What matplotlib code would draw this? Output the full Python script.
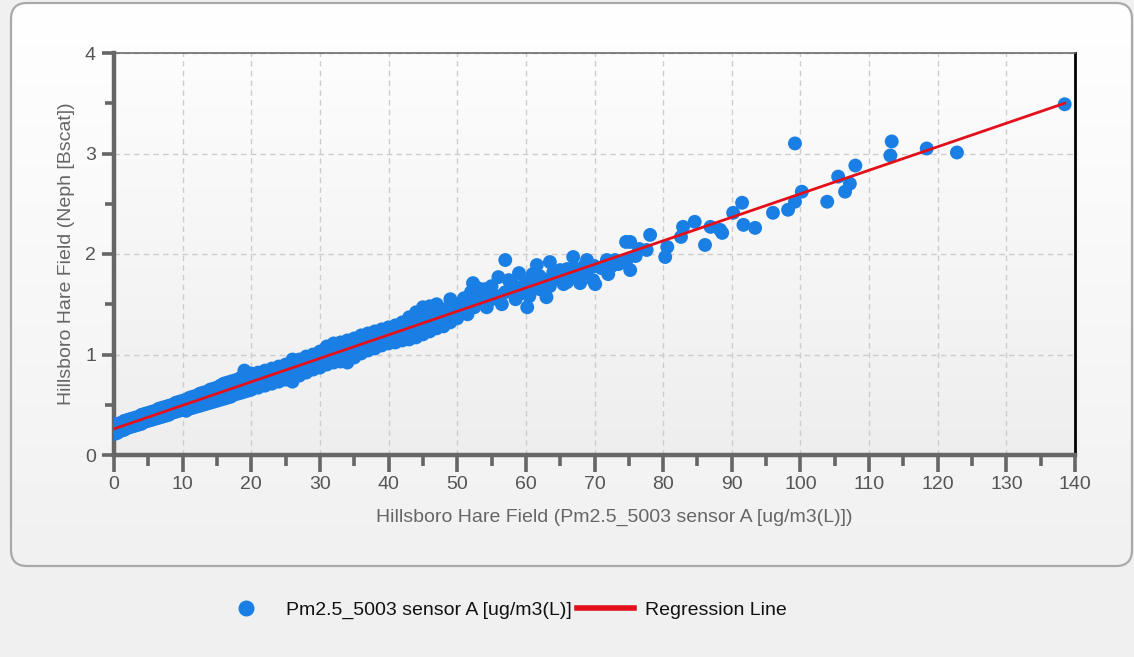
import matplotlib
matplotlib.use("Agg")
import matplotlib.pyplot as plt
import numpy as np
from matplotlib.colors import LinearSegmentedColormap
from matplotlib.lines import Line2D
from matplotlib.patches import FancyBboxPatch
from matplotlib.ticker import MultipleLocator

plt.rcParams["font.family"] = ["Liberation Sans", "DejaVu Sans"]

# (x, y) pairs
band_low = [
    (0.1, 0.30), (0.1, 0.21), (0.3, 0.25), (0.5, 0.31), (0.5, 0.22),
    (1.0, 0.32), (1.0, 0.24), (1.5, 0.34), (1.5, 0.25), (2.0, 0.35),
    (2.0, 0.27), (2.5, 0.36), (2.5, 0.28), (3.0, 0.37), (3.0, 0.29),
    (3.5, 0.38), (3.5, 0.30), (4.0, 0.40), (4.0, 0.31), (4.5, 0.41),
    (4.5, 0.33), (5.0, 0.42), (5.0, 0.34), (5.5, 0.43), (5.5, 0.35),
    (6.0, 0.44), (6.0, 0.36), (6.5, 0.46), (6.5, 0.37), (7.0, 0.47),
    (7.0, 0.38), (7.5, 0.48), (7.5, 0.39), (8.0, 0.49), (8.0, 0.40),
    (8.5, 0.50), (8.5, 0.42), (9.0, 0.52), (9.0, 0.43), (9.5, 0.53),
    (9.5, 0.44), (10.0, 0.54), (10.0, 0.45), (10.5, 0.55), (10.5, 0.44),
    (11.0, 0.57), (11.0, 0.46), (11.5, 0.58), (11.5, 0.47), (12.0, 0.59),
    (12.0, 0.48), (12.5, 0.61), (12.5, 0.49), (13.0, 0.62), (13.0, 0.50),
    (13.5, 0.63), (13.5, 0.51), (14.0, 0.65), (14.0, 0.52), (14.5, 0.66),
    (14.5, 0.53), (15.0, 0.67), (15.0, 0.54), (15.5, 0.69), (15.5, 0.55),
    (16.0, 0.71), (16.0, 0.56), (16.5, 0.72), (16.5, 0.57), (17.0, 0.73),
    (17.0, 0.58), (17.5, 0.74), (17.5, 0.60), (18.0, 0.75), (18.0, 0.61),
    (18.5, 0.77), (18.5, 0.62), (19.0, 0.84), (19.0, 0.63), (19.0, 0.76),
    (19.5, 0.79), (19.5, 0.64), (20.0, 0.81), (20.0, 0.65), (20.5, 0.74),
    (21.0, 0.82), (21.0, 0.67), (21.5, 0.76), (22.0, 0.84), (22.0, 0.69),
    (22.5, 0.78), (23.0, 0.86), (23.0, 0.71), (23.5, 0.80), (24.0, 0.88),
    (24.0, 0.73), (24.5, 0.82),
]
band_mid = [
    (25.0, 0.90), (25.0, 0.75), (25.5, 0.84), (26.0, 0.95), (26.0, 0.73),
    (26.5, 0.87), (27.0, 0.95), (27.0, 0.79), (27.5, 0.89), (28.0, 0.98),
    (28.0, 0.82), (28.5, 0.91), (29.0, 1.00), (29.0, 0.85), (29.5, 0.94),
    (30.0, 1.03), (30.0, 0.87), (30.5, 0.96), (31.0, 1.08), (31.0, 0.90),
    (31.5, 0.99), (32.0, 1.11), (32.0, 0.92), (32.5, 1.02), (33.0, 1.12),
    (33.0, 0.93), (33.5, 1.04), (34.0, 1.14), (34.0, 0.92), (34.5, 1.06),
    (35.0, 1.16), (35.0, 0.97), (35.5, 1.08), (36.0, 1.19), (36.0, 1.01),
    (36.5, 1.11), (37.0, 1.21), (37.0, 1.04), (37.5, 1.13), (38.0, 1.23),
    (38.0, 1.06), (38.5, 1.15), (39.0, 1.25), (39.0, 1.09), (39.5, 1.18),
    (40.0, 1.27), (40.0, 1.11), (40.5, 1.20), (41.0, 1.29), (41.0, 1.12),
    (41.5, 1.22), (42.0, 1.32), (42.0, 1.14), (42.5, 1.25), (43.0, 1.37),
    (43.0, 1.15), (43.5, 1.28), (44.0, 1.42), (44.0, 1.17), (44.5, 1.31),
    (45.0, 1.47), (45.0, 1.20), (45.5, 1.35), (46.0, 1.48), (46.0, 1.23),
    (46.5, 1.37), (47.0, 1.50), (47.0, 1.26), (47.5, 1.39), (48.0, 1.45),
    (48.0, 1.28), (48.5, 1.40), (49.0, 1.55), (49.0, 1.32), (49.5, 1.43),
]
band_high = [
    (50.0, 1.50), (50.0, 1.36), (50.5, 1.44), (51.0, 1.56), (51.0, 1.48),
    (51.5, 1.40), (52.0, 1.62), (52.0, 1.52), (52.3, 1.71), (52.5, 1.47),
    (53.0, 1.66), (53.0, 1.58), (53.5, 1.52), (54.0, 1.60), (54.0, 1.65),
    (54.3, 1.47), (55.0, 1.55), (55.0, 1.68), (55.0, 1.60), (56.0, 1.77),
    (56.0, 1.58), (56.5, 1.50), (57.0, 1.94), (57.0, 1.62), (57.5, 1.74),
    (58.0, 1.62), (58.0, 1.70), (58.5, 1.55), (59.0, 1.81), (59.0, 1.60),
    (59.5, 1.68), (60.0, 1.72), (60.2, 1.47), (60.5, 1.58), (61.0, 1.80),
    (61.0, 1.68), (61.6, 1.89), (62.0, 1.65), (62.0, 1.78), (62.5, 1.75),
    (63.0, 1.57), (63.5, 1.92), (63.5, 1.68), (64.0, 1.82), (64.0, 1.74),
    (65.0, 1.76), (65.0, 1.84), (65.5, 1.70), (66.0, 1.85), (66.0, 1.72),
    (66.9, 1.97), (67.0, 1.80), (67.0, 1.86), (67.9, 1.71), (68.0, 1.78),
    (68.5, 1.88), (68.9, 1.94), (69.0, 1.85), (69.8, 1.74), (70.0, 1.88),
    (70.1, 1.70), (71.0, 1.86), (71.8, 1.94), (72.0, 1.80), (72.5, 1.88),
    (73.0, 1.94), (73.5, 1.90), (74.6, 2.12), (74.7, 1.94), (75.2, 1.84),
    (76.0, 1.98), (76.5, 2.05),
]
outliers = [
    (75.2, 2.12), (77.6, 2.04), (78.1, 2.19), (80.3, 1.97), (80.6, 2.07),
    (82.6, 2.17), (82.9, 2.27), (84.6, 2.32), (86.1, 2.09), (86.9, 2.27),
    (88.3, 2.24), (88.6, 2.21), (90.2, 2.41), (91.5, 2.51), (91.7, 2.29),
    (93.4, 2.26), (96.0, 2.41), (98.2, 2.44), (99.2, 2.52), (99.2, 3.10),
    (100.2, 2.62), (103.9, 2.52), (105.5, 2.77), (106.5, 2.62), (107.2, 2.70),
    (108.0, 2.88), (113.1, 2.98), (113.3, 3.12), (118.4, 3.05), (122.8, 3.01),
    (138.5, 3.49),
]
reg_x = [0.0, 138.5]
reg_y = [0.26, 3.50]

x_label = "Hillsboro Hare Field (Pm2.5_5003 sensor A [ug/m3(L)])"
y_label = "Hillsboro Hare Field (Neph [Bscat])"
series_label = "Pm2.5_5003 sensor A [ug/m3(L)]"
line_label = "Regression Line"

BLUE = "#1a7fe4"
RED = "#e3101b"
W, H = 1134, 657

fig = plt.figure(figsize=(W / 100, H / 100), dpi=100)
fig.patch.set_facecolor("#f0f0f0")

# rounded panel behind the chart
bg = fig.add_axes([0, 0, 1, 1], zorder=-1)
bg.axis("off")
panel = FancyBboxPatch((11, 3), 1121, 563,
                       boxstyle="round,pad=0,rounding_size=16",
                       fc="none", ec="#a9a9a9", lw=1.6, zorder=2)
bg.add_patch(panel)
panel_cmap = LinearSegmentedColormap.from_list("panel", ["#ffffff", "#f1f1f1"])
im = bg.imshow(np.linspace(0, 1, 256)[:, None], cmap=panel_cmap,
               extent=(11, 1132, 566, 3), aspect="auto", zorder=1)
im.set_clip_path(panel)
bg.set_xlim(0, W)
bg.set_ylim(H, 0)

ax = fig.add_axes([114 / W, 1 - 455 / H, (1075 - 114) / W, (455 - 53) / H])
plot_cmap = LinearSegmentedColormap.from_list("plot", ["#fdfdfd", "#eeeeee"])
ax.imshow(np.linspace(0, 1, 256)[:, None], cmap=plot_cmap,
          extent=(0, 140, 0, 4), aspect="auto", origin="upper", zorder=0)

points = band_low + band_mid + band_high + outliers
xs = [p[0] for p in points]
ys = [p[1] for p in points]
ax.scatter(xs, ys, s=100, color=BLUE, edgecolors="none", zorder=3)
ax.plot(reg_x, reg_y, color=RED, lw=2.0, zorder=4)

ax.set_xlim(0, 140)
ax.set_ylim(0, 4)
ax.xaxis.set_major_locator(MultipleLocator(10))
ax.xaxis.set_minor_locator(MultipleLocator(5))
ax.yaxis.set_major_locator(MultipleLocator(1))
ax.yaxis.set_minor_locator(MultipleLocator(0.5))

ax.grid(True, which="major", linestyle=(0, (4, 3)), color="#cdcdcd", lw=1.0)
ax.set_axisbelow(True)

ax.tick_params(axis="x", which="major", direction="out", length=12, width=2.6,
               color="#666666", labelsize=14, labelcolor="#555555", pad=3)
ax.tick_params(axis="x", which="minor", direction="out", length=8, width=2.6,
               color="#666666")
ax.tick_params(axis="y", which="major", direction="out", length=9, width=2.6,
               color="#666666", labelsize=14, labelcolor="#555555", pad=4)
ax.tick_params(axis="y", which="minor", direction="out", length=6.5, width=2.6,
               color="#666666")

for side in ("left", "bottom"):
    ax.spines[side].set_linewidth(3.2)
    ax.spines[side].set_color("#666666")
ax.spines["top"].set_linewidth(1.2)
ax.spines["top"].set_color("#6a6a6a")
ax.spines["right"].set_linewidth(2.0)
ax.spines["right"].set_color("#000000")

ax.set_xlabel(x_label, fontsize=14, color="#666666")
ax.xaxis.set_label_coords(0.521, -0.135)
ax.set_ylabel(y_label, fontsize=14, color="#666666")
ax.yaxis.set_label_coords(-0.041, 0.5)

handles = [
    Line2D([], [], marker="o", ls="none", color=BLUE, markersize=10.5),
    Line2D([], [], color=RED, lw=4),
]
fig.legend(handles, [series_label, line_label], loc="center",
           bbox_to_anchor=(0.443, 1 - 610 / H), ncol=2, frameon=False,
           fontsize=14, handlelength=2.94, handletextpad=0.55,
           columnspacing=0.3, labelcolor="#111111")

fig.savefig("out.png", dpi=100, facecolor=fig.get_facecolor())
